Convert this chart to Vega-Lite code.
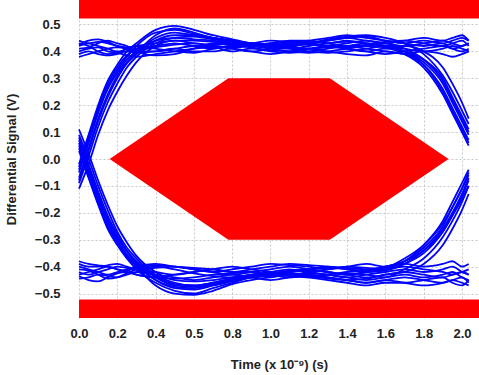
{
"$schema":"https://vega.github.io/schema/vega-lite/v6.json",
"width":400,"height":318,"autosize":"none",
"padding":{"left":79,"top":0,"right":0,"bottom":57},
"config":{"view":{"stroke":null},"font":"Liberation Sans",
"axis":{"grid":true,"gridColor":"#c8c8c8","gridDash":[2,2],"gridWidth":1,"ticks":false,"domain":false,"labelFont":"Liberation Sans","labelFontSize":13,"labelFontWeight":"bold","labelColor":"#222222","titleFont":"Liberation Sans","titleFontSize":13,"titleFontWeight":"bold","titleColor":"#222222"}},
"datasets":{
"bars":[{"t":0,"t2":2.089,"v":0.522,"v2":0.591},{"t":0,"t2":2.089,"v":-0.591,"v2":-0.522}],
"mask":[{"t":0.16,"v":0,"v2":0},{"t":0.78,"v":0.3,"v2":-0.3},{"t":1.31,"v":0.3,"v2":-0.3},{"t":1.93,"v":0,"v2":0}],
"traces":[
{"s":1,"t":0,"v":0.42},{"s":1,"t":0.05,"v":0.43},{"s":1,"t":0.1,"v":0.42},{"s":1,"t":0.15,"v":0.41},{"s":1,"t":0.2,"v":0.40},{"s":1,"t":0.25,"v":0.40},{"s":1,"t":0.3,"v":0.41},{"s":1,"t":0.4,"v":0.42},{"s":1,"t":0.5,"v":0.43},{"s":1,"t":0.6,"v":0.42},{"s":1,"t":0.7,"v":0.41},{"s":1,"t":0.8,"v":0.42},{"s":1,"t":0.9,"v":0.42},{"s":1,"t":1,"v":0.43},{"s":1,"t":1.1,"v":0.42},{"s":1,"t":1.2,"v":0.41},{"s":1,"t":1.3,"v":0.42},{"s":1,"t":1.4,"v":0.43},{"s":1,"t":1.5,"v":0.44},{"s":1,"t":1.6,"v":0.43},{"s":1,"t":1.7,"v":0.42},{"s":1,"t":1.8,"v":0.43},{"s":1,"t":1.9,"v":0.44},{"s":1,"t":1.95,"v":0.43},{"s":1,"t":2,"v":0.42},{"s":1,"t":2.035,"v":0.43},
{"s":2,"t":0,"v":0.39},{"s":2,"t":0.05,"v":0.40},{"s":2,"t":0.1,"v":0.39},{"s":2,"t":0.15,"v":0.385},{"s":2,"t":0.2,"v":0.39},{"s":2,"t":0.25,"v":0.40},{"s":2,"t":0.3,"v":0.395},{"s":2,"t":0.4,"v":0.40},{"s":2,"t":0.5,"v":0.41},{"s":2,"t":0.6,"v":0.40},{"s":2,"t":0.7,"v":0.40},{"s":2,"t":0.8,"v":0.41},{"s":2,"t":0.9,"v":0.40},{"s":2,"t":1,"v":0.39},{"s":2,"t":1.1,"v":0.40},{"s":2,"t":1.2,"v":0.41},{"s":2,"t":1.3,"v":0.40},{"s":2,"t":1.4,"v":0.39},{"s":2,"t":1.5,"v":0.385},{"s":2,"t":1.6,"v":0.40},{"s":2,"t":1.7,"v":0.39},{"s":2,"t":1.8,"v":0.40},{"s":2,"t":1.9,"v":0.39},{"s":2,"t":1.95,"v":0.38},{"s":2,"t":2,"v":0.39},{"s":2,"t":2.035,"v":0.40},
{"s":3,"t":0,"v":0.44},{"s":3,"t":0.05,"v":0.43},{"s":3,"t":0.1,"v":0.435},{"s":3,"t":0.15,"v":0.43},{"s":3,"t":0.2,"v":0.42},{"s":3,"t":0.25,"v":0.415},{"s":3,"t":0.3,"v":0.42},{"s":3,"t":0.4,"v":0.43},{"s":3,"t":0.5,"v":0.44},{"s":3,"t":0.6,"v":0.43},{"s":3,"t":0.7,"v":0.425},{"s":3,"t":0.8,"v":0.43},{"s":3,"t":0.9,"v":0.43},{"s":3,"t":1,"v":0.44},{"s":3,"t":1.1,"v":0.435},{"s":3,"t":1.2,"v":0.43},{"s":3,"t":1.3,"v":0.44},{"s":3,"t":1.4,"v":0.45},{"s":3,"t":1.5,"v":0.44},{"s":3,"t":1.6,"v":0.43},{"s":3,"t":1.7,"v":0.44},{"s":3,"t":1.8,"v":0.45},{"s":3,"t":1.9,"v":0.44},{"s":3,"t":1.95,"v":0.45},{"s":3,"t":2,"v":0.46},{"s":3,"t":2.035,"v":0.44},
{"s":4,"t":0,"v":0.40},{"s":4,"t":0.05,"v":0.41},{"s":4,"t":0.1,"v":0.415},{"s":4,"t":0.15,"v":0.40},{"s":4,"t":0.2,"v":0.395},{"s":4,"t":0.25,"v":0.385},{"s":4,"t":0.3,"v":0.38},{"s":4,"t":0.4,"v":0.39},{"s":4,"t":0.5,"v":0.40},{"s":4,"t":0.6,"v":0.41},{"s":4,"t":0.7,"v":0.415},{"s":4,"t":0.8,"v":0.40},{"s":4,"t":0.9,"v":0.41},{"s":4,"t":1,"v":0.405},{"s":4,"t":1.1,"v":0.40},{"s":4,"t":1.2,"v":0.41},{"s":4,"t":1.3,"v":0.42},{"s":4,"t":1.4,"v":0.41},{"s":4,"t":1.5,"v":0.40},{"s":4,"t":1.6,"v":0.39},{"s":4,"t":1.7,"v":0.40},{"s":4,"t":1.8,"v":0.41},{"s":4,"t":1.9,"v":0.42},{"s":4,"t":1.95,"v":0.41},{"s":4,"t":2,"v":0.40},{"s":4,"t":2.035,"v":0.41},
{"s":5,"t":0,"v":0.43},{"s":5,"t":0.05,"v":0.42},{"s":5,"t":0.1,"v":0.40},{"s":5,"t":0.15,"v":0.39},{"s":5,"t":0.2,"v":0.395},{"s":5,"t":0.25,"v":0.41},{"s":5,"t":0.3,"v":0.42},{"s":5,"t":0.4,"v":0.41},{"s":5,"t":0.5,"v":0.40},{"s":5,"t":0.6,"v":0.395},{"s":5,"t":0.7,"v":0.41},{"s":5,"t":0.8,"v":0.42},{"s":5,"t":0.9,"v":0.415},{"s":5,"t":1,"v":0.40},{"s":5,"t":1.1,"v":0.395},{"s":5,"t":1.2,"v":0.40},{"s":5,"t":1.3,"v":0.41},{"s":5,"t":1.4,"v":0.42},{"s":5,"t":1.5,"v":0.43},{"s":5,"t":1.6,"v":0.42},{"s":5,"t":1.7,"v":0.40},{"s":5,"t":1.8,"v":0.35},{"s":5,"t":1.9,"v":0.25},{"s":5,"t":1.95,"v":0.18},{"s":5,"t":2,"v":0.11},{"s":5,"t":2.035,"v":0.06},
{"s":6,"t":0,"v":0.41},{"s":6,"t":0.05,"v":0.415},{"s":6,"t":0.1,"v":0.43},{"s":6,"t":0.15,"v":0.44},{"s":6,"t":0.2,"v":0.43},{"s":6,"t":0.25,"v":0.42},{"s":6,"t":0.3,"v":0.40},{"s":6,"t":0.4,"v":0.385},{"s":6,"t":0.5,"v":0.39},{"s":6,"t":0.6,"v":0.41},{"s":6,"t":0.7,"v":0.43},{"s":6,"t":0.8,"v":0.425},{"s":6,"t":0.9,"v":0.43},{"s":6,"t":1,"v":0.425},{"s":6,"t":1.1,"v":0.42},{"s":6,"t":1.2,"v":0.43},{"s":6,"t":1.3,"v":0.445},{"s":6,"t":1.4,"v":0.455},{"s":6,"t":1.5,"v":0.46},{"s":6,"t":1.6,"v":0.45},{"s":6,"t":1.7,"v":0.43},{"s":6,"t":1.8,"v":0.39},{"s":6,"t":1.9,"v":0.31},{"s":6,"t":1.95,"v":0.25},{"s":6,"t":2,"v":0.18},{"s":6,"t":2.035,"v":0.13},
{"s":7,"t":0,"v":0.38},{"s":7,"t":0.05,"v":0.39},{"s":7,"t":0.1,"v":0.40},{"s":7,"t":0.15,"v":0.41},{"s":7,"t":0.2,"v":0.415},{"s":7,"t":0.25,"v":0.41},{"s":7,"t":0.3,"v":0.40},{"s":7,"t":0.4,"v":0.40},{"s":7,"t":0.5,"v":0.41},{"s":7,"t":0.6,"v":0.42},{"s":7,"t":0.7,"v":0.42},{"s":7,"t":0.8,"v":0.41},{"s":7,"t":0.9,"v":0.40},{"s":7,"t":1,"v":0.41},{"s":7,"t":1.1,"v":0.42},{"s":7,"t":1.2,"v":0.425},{"s":7,"t":1.3,"v":0.42},{"s":7,"t":1.4,"v":0.41},{"s":7,"t":1.5,"v":0.40},{"s":7,"t":1.6,"v":0.41},{"s":7,"t":1.7,"v":0.39},{"s":7,"t":1.8,"v":0.34},{"s":7,"t":1.9,"v":0.24},{"s":7,"t":1.95,"v":0.17},{"s":7,"t":2,"v":0.10},{"s":7,"t":2.035,"v":0.05},
{"s":8,"t":0,"v":0.425},{"s":8,"t":0.05,"v":0.44},{"s":8,"t":0.1,"v":0.445},{"s":8,"t":0.15,"v":0.435},{"s":8,"t":0.2,"v":0.42},{"s":8,"t":0.25,"v":0.41},{"s":8,"t":0.3,"v":0.405},{"s":8,"t":0.4,"v":0.415},{"s":8,"t":0.5,"v":0.425},{"s":8,"t":0.6,"v":0.43},{"s":8,"t":0.7,"v":0.42},{"s":8,"t":0.8,"v":0.415},{"s":8,"t":0.9,"v":0.42},{"s":8,"t":1,"v":0.43},{"s":8,"t":1.1,"v":0.44},{"s":8,"t":1.2,"v":0.44},{"s":8,"t":1.3,"v":0.43},{"s":8,"t":1.4,"v":0.42},{"s":8,"t":1.5,"v":0.42},{"s":8,"t":1.6,"v":0.43},{"s":8,"t":1.7,"v":0.41},{"s":8,"t":1.8,"v":0.37},{"s":8,"t":1.9,"v":0.29},{"s":8,"t":1.95,"v":0.22},{"s":8,"t":2,"v":0.15},{"s":8,"t":2.035,"v":0.10},
{"s":9,"t":0,"v":-0.02},{"s":9,"t":0.05,"v":0.09},{"s":9,"t":0.1,"v":0.20},{"s":9,"t":0.15,"v":0.29},{"s":9,"t":0.2,"v":0.35},{"s":9,"t":0.25,"v":0.40},{"s":9,"t":0.3,"v":0.43},{"s":9,"t":0.4,"v":0.48},{"s":9,"t":0.5,"v":0.495},{"s":9,"t":0.6,"v":0.48},{"s":9,"t":0.7,"v":0.46},{"s":9,"t":0.8,"v":0.445},{"s":9,"t":0.9,"v":0.43},{"s":9,"t":1,"v":0.425},{"s":9,"t":1.1,"v":0.42},{"s":9,"t":1.2,"v":0.43},{"s":9,"t":1.3,"v":0.44},{"s":9,"t":1.4,"v":0.45},{"s":9,"t":1.5,"v":0.455},{"s":9,"t":1.6,"v":0.44},{"s":9,"t":1.7,"v":0.43},{"s":9,"t":1.8,"v":0.44},{"s":9,"t":1.9,"v":0.43},{"s":9,"t":1.95,"v":0.44},{"s":9,"t":2,"v":0.45},{"s":9,"t":2.035,"v":0.44},
{"s":10,"t":0,"v":-0.05},{"s":10,"t":0.05,"v":0.06},{"s":10,"t":0.1,"v":0.17},{"s":10,"t":0.15,"v":0.26},{"s":10,"t":0.2,"v":0.32},{"s":10,"t":0.25,"v":0.37},{"s":10,"t":0.3,"v":0.40},{"s":10,"t":0.4,"v":0.45},{"s":10,"t":0.5,"v":0.47},{"s":10,"t":0.6,"v":0.46},{"s":10,"t":0.7,"v":0.45},{"s":10,"t":0.8,"v":0.44},{"s":10,"t":0.9,"v":0.425},{"s":10,"t":1,"v":0.42},{"s":10,"t":1.1,"v":0.415},{"s":10,"t":1.2,"v":0.41},{"s":10,"t":1.3,"v":0.415},{"s":10,"t":1.4,"v":0.42},{"s":10,"t":1.5,"v":0.41},{"s":10,"t":1.6,"v":0.40},{"s":10,"t":1.7,"v":0.39},{"s":10,"t":1.8,"v":0.35},{"s":10,"t":1.9,"v":0.26},{"s":10,"t":1.95,"v":0.19},{"s":10,"t":2,"v":0.12},{"s":10,"t":2.035,"v":0.07},
{"s":11,"t":0,"v":-0.09},{"s":11,"t":0.05,"v":0.01},{"s":11,"t":0.1,"v":0.12},{"s":11,"t":0.15,"v":0.21},{"s":11,"t":0.2,"v":0.28},{"s":11,"t":0.25,"v":0.34},{"s":11,"t":0.3,"v":0.38},{"s":11,"t":0.4,"v":0.43},{"s":11,"t":0.5,"v":0.45},{"s":11,"t":0.6,"v":0.455},{"s":11,"t":0.7,"v":0.445},{"s":11,"t":0.8,"v":0.435},{"s":11,"t":0.9,"v":0.425},{"s":11,"t":1,"v":0.415},{"s":11,"t":1.1,"v":0.41},{"s":11,"t":1.2,"v":0.42},{"s":11,"t":1.3,"v":0.43},{"s":11,"t":1.4,"v":0.435},{"s":11,"t":1.5,"v":0.43},{"s":11,"t":1.6,"v":0.42},{"s":11,"t":1.7,"v":0.41},{"s":11,"t":1.8,"v":0.40},{"s":11,"t":1.9,"v":0.41},{"s":11,"t":1.95,"v":0.42},{"s":11,"t":2,"v":0.41},{"s":11,"t":2.035,"v":0.40},
{"s":12,"t":0,"v":-0.11},{"s":12,"t":0.05,"v":-0.02},{"s":12,"t":0.1,"v":0.09},{"s":12,"t":0.15,"v":0.18},{"s":12,"t":0.2,"v":0.25},{"s":12,"t":0.25,"v":0.31},{"s":12,"t":0.3,"v":0.36},{"s":12,"t":0.4,"v":0.42},{"s":12,"t":0.5,"v":0.44},{"s":12,"t":0.6,"v":0.44},{"s":12,"t":0.7,"v":0.435},{"s":12,"t":0.8,"v":0.43},{"s":12,"t":0.9,"v":0.42},{"s":12,"t":1,"v":0.41},{"s":12,"t":1.1,"v":0.40},{"s":12,"t":1.2,"v":0.395},{"s":12,"t":1.3,"v":0.40},{"s":12,"t":1.4,"v":0.41},{"s":12,"t":1.5,"v":0.42},{"s":12,"t":1.6,"v":0.415},{"s":12,"t":1.7,"v":0.40},{"s":12,"t":1.8,"v":0.36},{"s":12,"t":1.9,"v":0.28},{"s":12,"t":1.95,"v":0.21},{"s":12,"t":2,"v":0.14},{"s":12,"t":2.035,"v":0.09},
{"s":13,"t":0,"v":-0.03},{"s":13,"t":0.05,"v":0.08},{"s":13,"t":0.1,"v":0.19},{"s":13,"t":0.15,"v":0.28},{"s":13,"t":0.2,"v":0.34},{"s":13,"t":0.25,"v":0.385},{"s":13,"t":0.3,"v":0.41},{"s":13,"t":0.4,"v":0.44},{"s":13,"t":0.5,"v":0.45},{"s":13,"t":0.6,"v":0.445},{"s":13,"t":0.7,"v":0.44},{"s":13,"t":0.8,"v":0.43},{"s":13,"t":0.9,"v":0.425},{"s":13,"t":1,"v":0.43},{"s":13,"t":1.1,"v":0.435},{"s":13,"t":1.2,"v":0.44},{"s":13,"t":1.3,"v":0.45},{"s":13,"t":1.4,"v":0.46},{"s":13,"t":1.5,"v":0.45},{"s":13,"t":1.6,"v":0.44},{"s":13,"t":1.7,"v":0.43},{"s":13,"t":1.8,"v":0.42},{"s":13,"t":1.9,"v":0.43},{"s":13,"t":1.95,"v":0.41},{"s":13,"t":2,"v":0.42},{"s":13,"t":2.035,"v":0.43},
{"s":14,"t":0,"v":-0.07},{"s":14,"t":0.05,"v":0.04},{"s":14,"t":0.1,"v":0.15},{"s":14,"t":0.15,"v":0.24},{"s":14,"t":0.2,"v":0.31},{"s":14,"t":0.25,"v":0.36},{"s":14,"t":0.3,"v":0.395},{"s":14,"t":0.4,"v":0.46},{"s":14,"t":0.5,"v":0.485},{"s":14,"t":0.6,"v":0.47},{"s":14,"t":0.7,"v":0.45},{"s":14,"t":0.8,"v":0.44},{"s":14,"t":0.9,"v":0.43},{"s":14,"t":1,"v":0.42},{"s":14,"t":1.1,"v":0.41},{"s":14,"t":1.2,"v":0.40},{"s":14,"t":1.3,"v":0.395},{"s":14,"t":1.4,"v":0.40},{"s":14,"t":1.5,"v":0.41},{"s":14,"t":1.6,"v":0.42},{"s":14,"t":1.7,"v":0.42},{"s":14,"t":1.8,"v":0.40},{"s":14,"t":1.9,"v":0.34},{"s":14,"t":1.95,"v":0.28},{"s":14,"t":2,"v":0.21},{"s":14,"t":2.035,"v":0.15},
{"s":15,"t":0,"v":-0.04},{"s":15,"t":0.05,"v":0.07},{"s":15,"t":0.1,"v":0.18},{"s":15,"t":0.15,"v":0.27},{"s":15,"t":0.2,"v":0.33},{"s":15,"t":0.25,"v":0.38},{"s":15,"t":0.3,"v":0.42},{"s":15,"t":0.4,"v":0.47},{"s":15,"t":0.5,"v":0.48},{"s":15,"t":0.6,"v":0.465},{"s":15,"t":0.7,"v":0.45},{"s":15,"t":0.8,"v":0.435},{"s":15,"t":0.9,"v":0.425},{"s":15,"t":1,"v":0.42},{"s":15,"t":1.1,"v":0.425},{"s":15,"t":1.2,"v":0.43},{"s":15,"t":1.3,"v":0.42},{"s":15,"t":1.4,"v":0.415},{"s":15,"t":1.5,"v":0.425},{"s":15,"t":1.6,"v":0.435},{"s":15,"t":1.7,"v":0.44},{"s":15,"t":1.8,"v":0.43},{"s":15,"t":1.9,"v":0.42},{"s":15,"t":1.95,"v":0.43},{"s":15,"t":2,"v":0.44},{"s":15,"t":2.035,"v":0.42},
{"s":16,"t":0,"v":-0.08},{"s":16,"t":0.05,"v":0.03},{"s":16,"t":0.1,"v":0.14},{"s":16,"t":0.15,"v":0.23},{"s":16,"t":0.2,"v":0.30},{"s":16,"t":0.25,"v":0.355},{"s":16,"t":0.3,"v":0.39},{"s":16,"t":0.4,"v":0.44},{"s":16,"t":0.5,"v":0.46},{"s":16,"t":0.6,"v":0.46},{"s":16,"t":0.7,"v":0.45},{"s":16,"t":0.8,"v":0.44},{"s":16,"t":0.9,"v":0.43},{"s":16,"t":1,"v":0.425},{"s":16,"t":1.1,"v":0.43},{"s":16,"t":1.2,"v":0.435},{"s":16,"t":1.3,"v":0.43},{"s":16,"t":1.4,"v":0.44},{"s":16,"t":1.5,"v":0.43},{"s":16,"t":1.6,"v":0.42},{"s":16,"t":1.7,"v":0.40},{"s":16,"t":1.8,"v":0.37},{"s":16,"t":1.9,"v":0.30},{"s":16,"t":1.95,"v":0.23},{"s":16,"t":2,"v":0.16},{"s":16,"t":2.035,"v":0.11},
{"s":17,"t":0,"v":-0.42},{"s":17,"t":0.05,"v":-0.43},{"s":17,"t":0.1,"v":-0.42},{"s":17,"t":0.15,"v":-0.41},{"s":17,"t":0.2,"v":-0.40},{"s":17,"t":0.25,"v":-0.405},{"s":17,"t":0.3,"v":-0.41},{"s":17,"t":0.4,"v":-0.42},{"s":17,"t":0.5,"v":-0.43},{"s":17,"t":0.6,"v":-0.42},{"s":17,"t":0.7,"v":-0.41},{"s":17,"t":0.8,"v":-0.42},{"s":17,"t":0.9,"v":-0.42},{"s":17,"t":1,"v":-0.43},{"s":17,"t":1.1,"v":-0.42},{"s":17,"t":1.2,"v":-0.41},{"s":17,"t":1.3,"v":-0.42},{"s":17,"t":1.4,"v":-0.43},{"s":17,"t":1.5,"v":-0.44},{"s":17,"t":1.6,"v":-0.43},{"s":17,"t":1.7,"v":-0.42},{"s":17,"t":1.8,"v":-0.43},{"s":17,"t":1.9,"v":-0.44},{"s":17,"t":1.95,"v":-0.43},{"s":17,"t":2,"v":-0.42},{"s":17,"t":2.035,"v":-0.43},
{"s":18,"t":0,"v":-0.39},{"s":18,"t":0.05,"v":-0.40},{"s":18,"t":0.1,"v":-0.40},{"s":18,"t":0.15,"v":-0.395},{"s":18,"t":0.2,"v":-0.39},{"s":18,"t":0.25,"v":-0.40},{"s":18,"t":0.3,"v":-0.41},{"s":18,"t":0.4,"v":-0.405},{"s":18,"t":0.5,"v":-0.40},{"s":18,"t":0.6,"v":-0.41},{"s":18,"t":0.7,"v":-0.42},{"s":18,"t":0.8,"v":-0.41},{"s":18,"t":0.9,"v":-0.40},{"s":18,"t":1,"v":-0.39},{"s":18,"t":1.1,"v":-0.395},{"s":18,"t":1.2,"v":-0.40},{"s":18,"t":1.3,"v":-0.41},{"s":18,"t":1.4,"v":-0.40},{"s":18,"t":1.5,"v":-0.39},{"s":18,"t":1.6,"v":-0.40},{"s":18,"t":1.7,"v":-0.39},{"s":18,"t":1.8,"v":-0.40},{"s":18,"t":1.9,"v":-0.39},{"s":18,"t":1.95,"v":-0.38},{"s":18,"t":2,"v":-0.40},{"s":18,"t":2.035,"v":-0.39},
{"s":19,"t":0,"v":-0.445},{"s":19,"t":0.05,"v":-0.44},{"s":19,"t":0.1,"v":-0.43},{"s":19,"t":0.15,"v":-0.435},{"s":19,"t":0.2,"v":-0.44},{"s":19,"t":0.25,"v":-0.43},{"s":19,"t":0.3,"v":-0.42},{"s":19,"t":0.4,"v":-0.43},{"s":19,"t":0.5,"v":-0.44},{"s":19,"t":0.6,"v":-0.45},{"s":19,"t":0.7,"v":-0.44},{"s":19,"t":0.8,"v":-0.43},{"s":19,"t":0.9,"v":-0.44},{"s":19,"t":1,"v":-0.45},{"s":19,"t":1.1,"v":-0.44},{"s":19,"t":1.2,"v":-0.43},{"s":19,"t":1.3,"v":-0.44},{"s":19,"t":1.4,"v":-0.45},{"s":19,"t":1.5,"v":-0.46},{"s":19,"t":1.6,"v":-0.45},{"s":19,"t":1.7,"v":-0.46},{"s":19,"t":1.8,"v":-0.47},{"s":19,"t":1.9,"v":-0.46},{"s":19,"t":1.95,"v":-0.45},{"s":19,"t":2,"v":-0.46},{"s":19,"t":2.035,"v":-0.47},
{"s":20,"t":0,"v":-0.40},{"s":20,"t":0.05,"v":-0.41},{"s":20,"t":0.1,"v":-0.42},{"s":20,"t":0.15,"v":-0.43},{"s":20,"t":0.2,"v":-0.42},{"s":20,"t":0.25,"v":-0.41},{"s":20,"t":0.3,"v":-0.40},{"s":20,"t":0.4,"v":-0.39},{"s":20,"t":0.5,"v":-0.40},{"s":20,"t":0.6,"v":-0.41},{"s":20,"t":0.7,"v":-0.42},{"s":20,"t":0.8,"v":-0.43},{"s":20,"t":0.9,"v":-0.42},{"s":20,"t":1,"v":-0.41},{"s":20,"t":1.1,"v":-0.40},{"s":20,"t":1.2,"v":-0.41},{"s":20,"t":1.3,"v":-0.42},{"s":20,"t":1.4,"v":-0.43},{"s":20,"t":1.5,"v":-0.42},{"s":20,"t":1.6,"v":-0.41},{"s":20,"t":1.7,"v":-0.40},{"s":20,"t":1.8,"v":-0.41},{"s":20,"t":1.9,"v":-0.42},{"s":20,"t":1.95,"v":-0.43},{"s":20,"t":2,"v":-0.42},{"s":20,"t":2.035,"v":-0.41},
{"s":21,"t":0,"v":-0.43},{"s":21,"t":0.05,"v":-0.42},{"s":21,"t":0.1,"v":-0.41},{"s":21,"t":0.15,"v":-0.40},{"s":21,"t":0.2,"v":-0.41},{"s":21,"t":0.25,"v":-0.42},{"s":21,"t":0.3,"v":-0.43},{"s":21,"t":0.4,"v":-0.44},{"s":21,"t":0.5,"v":-0.43},{"s":21,"t":0.6,"v":-0.42},{"s":21,"t":0.7,"v":-0.41},{"s":21,"t":0.8,"v":-0.40},{"s":21,"t":0.9,"v":-0.41},{"s":21,"t":1,"v":-0.42},{"s":21,"t":1.1,"v":-0.43},{"s":21,"t":1.2,"v":-0.42},{"s":21,"t":1.3,"v":-0.41},{"s":21,"t":1.4,"v":-0.40},{"s":21,"t":1.5,"v":-0.405},{"s":21,"t":1.6,"v":-0.41},{"s":21,"t":1.7,"v":-0.39},{"s":21,"t":1.8,"v":-0.34},{"s":21,"t":1.9,"v":-0.26},{"s":21,"t":1.95,"v":-0.20},{"s":21,"t":2,"v":-0.13},{"s":21,"t":2.035,"v":-0.07},
{"s":22,"t":0,"v":-0.41},{"s":22,"t":0.05,"v":-0.415},{"s":22,"t":0.1,"v":-0.43},{"s":22,"t":0.15,"v":-0.445},{"s":22,"t":0.2,"v":-0.44},{"s":22,"t":0.25,"v":-0.425},{"s":22,"t":0.3,"v":-0.41},{"s":22,"t":0.4,"v":-0.40},{"s":22,"t":0.5,"v":-0.41},{"s":22,"t":0.6,"v":-0.425},{"s":22,"t":0.7,"v":-0.435},{"s":22,"t":0.8,"v":-0.44},{"s":22,"t":0.9,"v":-0.44},{"s":22,"t":1,"v":-0.43},{"s":22,"t":1.1,"v":-0.425},{"s":22,"t":1.2,"v":-0.435},{"s":22,"t":1.3,"v":-0.445},{"s":22,"t":1.4,"v":-0.45},{"s":22,"t":1.5,"v":-0.445},{"s":22,"t":1.6,"v":-0.43},{"s":22,"t":1.7,"v":-0.42},{"s":22,"t":1.8,"v":-0.39},{"s":22,"t":1.9,"v":-0.32},{"s":22,"t":1.95,"v":-0.26},{"s":22,"t":2,"v":-0.19},{"s":22,"t":2.035,"v":-0.13},
{"s":23,"t":0,"v":-0.38},{"s":23,"t":0.05,"v":-0.39},{"s":23,"t":0.1,"v":-0.395},{"s":23,"t":0.15,"v":-0.40},{"s":23,"t":0.2,"v":-0.41},{"s":23,"t":0.25,"v":-0.415},{"s":23,"t":0.3,"v":-0.40},{"s":23,"t":0.4,"v":-0.395},{"s":23,"t":0.5,"v":-0.40},{"s":23,"t":0.6,"v":-0.405},{"s":23,"t":0.7,"v":-0.41},{"s":23,"t":0.8,"v":-0.42},{"s":23,"t":0.9,"v":-0.41},{"s":23,"t":1,"v":-0.40},{"s":23,"t":1.1,"v":-0.39},{"s":23,"t":1.2,"v":-0.395},{"s":23,"t":1.3,"v":-0.40},{"s":23,"t":1.4,"v":-0.41},{"s":23,"t":1.5,"v":-0.415},{"s":23,"t":1.6,"v":-0.40},{"s":23,"t":1.7,"v":-0.38},{"s":23,"t":1.8,"v":-0.32},{"s":23,"t":1.9,"v":-0.23},{"s":23,"t":1.95,"v":-0.16},{"s":23,"t":2,"v":-0.09},{"s":23,"t":2.035,"v":-0.04},
{"s":24,"t":0,"v":-0.435},{"s":24,"t":0.05,"v":-0.45},{"s":24,"t":0.1,"v":-0.455},{"s":24,"t":0.15,"v":-0.44},{"s":24,"t":0.2,"v":-0.425},{"s":24,"t":0.25,"v":-0.42},{"s":24,"t":0.3,"v":-0.43},{"s":24,"t":0.4,"v":-0.44},{"s":24,"t":0.5,"v":-0.445},{"s":24,"t":0.6,"v":-0.44},{"s":24,"t":0.7,"v":-0.43},{"s":24,"t":0.8,"v":-0.425},{"s":24,"t":0.9,"v":-0.42},{"s":24,"t":1,"v":-0.43},{"s":24,"t":1.1,"v":-0.44},{"s":24,"t":1.2,"v":-0.435},{"s":24,"t":1.3,"v":-0.43},{"s":24,"t":1.4,"v":-0.425},{"s":24,"t":1.5,"v":-0.43},{"s":24,"t":1.6,"v":-0.44},{"s":24,"t":1.7,"v":-0.41},{"s":24,"t":1.8,"v":-0.37},{"s":24,"t":1.9,"v":-0.29},{"s":24,"t":1.95,"v":-0.23},{"s":24,"t":2,"v":-0.16},{"s":24,"t":2.035,"v":-0.10},
{"s":25,"t":0,"v":0.03},{"s":25,"t":0.05,"v":-0.07},{"s":25,"t":0.1,"v":-0.17},{"s":25,"t":0.15,"v":-0.26},{"s":25,"t":0.2,"v":-0.32},{"s":25,"t":0.25,"v":-0.37},{"s":25,"t":0.3,"v":-0.41},{"s":25,"t":0.4,"v":-0.46},{"s":25,"t":0.5,"v":-0.49},{"s":25,"t":0.6,"v":-0.50},{"s":25,"t":0.7,"v":-0.48},{"s":25,"t":0.8,"v":-0.46},{"s":25,"t":0.9,"v":-0.44},{"s":25,"t":1,"v":-0.43},{"s":25,"t":1.1,"v":-0.425},{"s":25,"t":1.2,"v":-0.43},{"s":25,"t":1.3,"v":-0.44},{"s":25,"t":1.4,"v":-0.45},{"s":25,"t":1.5,"v":-0.46},{"s":25,"t":1.6,"v":-0.45},{"s":25,"t":1.7,"v":-0.44},{"s":25,"t":1.8,"v":-0.45},{"s":25,"t":1.9,"v":-0.46},{"s":25,"t":1.95,"v":-0.45},{"s":25,"t":2,"v":-0.44},{"s":25,"t":2.035,"v":-0.46},
{"s":26,"t":0,"v":0.06},{"s":26,"t":0.05,"v":-0.04},{"s":26,"t":0.1,"v":-0.14},{"s":26,"t":0.15,"v":-0.23},{"s":26,"t":0.2,"v":-0.30},{"s":26,"t":0.25,"v":-0.355},{"s":26,"t":0.3,"v":-0.39},{"s":26,"t":0.4,"v":-0.45},{"s":26,"t":0.5,"v":-0.48},{"s":26,"t":0.6,"v":-0.485},{"s":26,"t":0.7,"v":-0.47},{"s":26,"t":0.8,"v":-0.45},{"s":26,"t":0.9,"v":-0.435},{"s":26,"t":1,"v":-0.425},{"s":26,"t":1.1,"v":-0.42},{"s":26,"t":1.2,"v":-0.415},{"s":26,"t":1.3,"v":-0.42},{"s":26,"t":1.4,"v":-0.43},{"s":26,"t":1.5,"v":-0.42},{"s":26,"t":1.6,"v":-0.41},{"s":26,"t":1.7,"v":-0.38},{"s":26,"t":1.8,"v":-0.33},{"s":26,"t":1.9,"v":-0.25},{"s":26,"t":1.95,"v":-0.18},{"s":26,"t":2,"v":-0.11},{"s":26,"t":2.035,"v":-0.06},
{"s":27,"t":0,"v":0.09},{"s":27,"t":0.05,"v":0.0},{"s":27,"t":0.1,"v":-0.10},{"s":27,"t":0.15,"v":-0.19},{"s":27,"t":0.2,"v":-0.27},{"s":27,"t":0.25,"v":-0.33},{"s":27,"t":0.3,"v":-0.37},{"s":27,"t":0.4,"v":-0.43},{"s":27,"t":0.5,"v":-0.46},{"s":27,"t":0.6,"v":-0.47},{"s":27,"t":0.7,"v":-0.46},{"s":27,"t":0.8,"v":-0.445},{"s":27,"t":0.9,"v":-0.43},{"s":27,"t":1,"v":-0.42},{"s":27,"t":1.1,"v":-0.41},{"s":27,"t":1.2,"v":-0.42},{"s":27,"t":1.3,"v":-0.43},{"s":27,"t":1.4,"v":-0.44},{"s":27,"t":1.5,"v":-0.43},{"s":27,"t":1.6,"v":-0.42},{"s":27,"t":1.7,"v":-0.41},{"s":27,"t":1.8,"v":-0.42},{"s":27,"t":1.9,"v":-0.41},{"s":27,"t":1.95,"v":-0.40},{"s":27,"t":2,"v":-0.42},{"s":27,"t":2.035,"v":-0.43},
{"s":28,"t":0,"v":0.11},{"s":28,"t":0.05,"v":0.02},{"s":28,"t":0.1,"v":-0.08},{"s":28,"t":0.15,"v":-0.17},{"s":28,"t":0.2,"v":-0.25},{"s":28,"t":0.25,"v":-0.31},{"s":28,"t":0.3,"v":-0.36},{"s":28,"t":0.4,"v":-0.42},{"s":28,"t":0.5,"v":-0.45},{"s":28,"t":0.6,"v":-0.455},{"s":28,"t":0.7,"v":-0.45},{"s":28,"t":0.8,"v":-0.44},{"s":28,"t":0.9,"v":-0.43},{"s":28,"t":1,"v":-0.425},{"s":28,"t":1.1,"v":-0.415},{"s":28,"t":1.2,"v":-0.41},{"s":28,"t":1.3,"v":-0.405},{"s":28,"t":1.4,"v":-0.41},{"s":28,"t":1.5,"v":-0.42},{"s":28,"t":1.6,"v":-0.415},{"s":28,"t":1.7,"v":-0.39},{"s":28,"t":1.8,"v":-0.35},{"s":28,"t":1.9,"v":-0.27},{"s":28,"t":1.95,"v":-0.21},{"s":28,"t":2,"v":-0.14},{"s":28,"t":2.035,"v":-0.08},
{"s":29,"t":0,"v":0.04},{"s":29,"t":0.05,"v":-0.06},{"s":29,"t":0.1,"v":-0.16},{"s":29,"t":0.15,"v":-0.25},{"s":29,"t":0.2,"v":-0.31},{"s":29,"t":0.25,"v":-0.365},{"s":29,"t":0.3,"v":-0.40},{"s":29,"t":0.4,"v":-0.47},{"s":29,"t":0.5,"v":-0.50},{"s":29,"t":0.6,"v":-0.505},{"s":29,"t":0.7,"v":-0.49},{"s":29,"t":0.8,"v":-0.465},{"s":29,"t":0.9,"v":-0.45},{"s":29,"t":1,"v":-0.44},{"s":29,"t":1.1,"v":-0.43},{"s":29,"t":1.2,"v":-0.44},{"s":29,"t":1.3,"v":-0.45},{"s":29,"t":1.4,"v":-0.46},{"s":29,"t":1.5,"v":-0.47},{"s":29,"t":1.6,"v":-0.46},{"s":29,"t":1.7,"v":-0.46},{"s":29,"t":1.8,"v":-0.45},{"s":29,"t":1.9,"v":-0.44},{"s":29,"t":1.95,"v":-0.46},{"s":29,"t":2,"v":-0.47},{"s":29,"t":2.035,"v":-0.45},
{"s":30,"t":0,"v":0.07},{"s":30,"t":0.05,"v":-0.03},{"s":30,"t":0.1,"v":-0.13},{"s":30,"t":0.15,"v":-0.22},{"s":30,"t":0.2,"v":-0.29},{"s":30,"t":0.25,"v":-0.345},{"s":30,"t":0.3,"v":-0.385},{"s":30,"t":0.4,"v":-0.44},{"s":30,"t":0.5,"v":-0.47},{"s":30,"t":0.6,"v":-0.475},{"s":30,"t":0.7,"v":-0.465},{"s":30,"t":0.8,"v":-0.45},{"s":30,"t":0.9,"v":-0.44},{"s":30,"t":1,"v":-0.43},{"s":30,"t":1.1,"v":-0.42},{"s":30,"t":1.2,"v":-0.41},{"s":30,"t":1.3,"v":-0.40},{"s":30,"t":1.4,"v":-0.405},{"s":30,"t":1.5,"v":-0.41},{"s":30,"t":1.6,"v":-0.40},{"s":30,"t":1.7,"v":-0.38},{"s":30,"t":1.8,"v":-0.34},{"s":30,"t":1.9,"v":-0.27},{"s":30,"t":1.95,"v":-0.21},{"s":30,"t":2,"v":-0.15},{"s":30,"t":2.035,"v":-0.10},
{"s":31,"t":0,"v":0.05},{"s":31,"t":0.05,"v":-0.05},{"s":31,"t":0.1,"v":-0.15},{"s":31,"t":0.15,"v":-0.24},{"s":31,"t":0.2,"v":-0.305},{"s":31,"t":0.25,"v":-0.36},{"s":31,"t":0.3,"v":-0.395},{"s":31,"t":0.4,"v":-0.45},{"s":31,"t":0.5,"v":-0.475},{"s":31,"t":0.6,"v":-0.48},{"s":31,"t":0.7,"v":-0.47},{"s":31,"t":0.8,"v":-0.455},{"s":31,"t":0.9,"v":-0.44},{"s":31,"t":1,"v":-0.435},{"s":31,"t":1.1,"v":-0.43},{"s":31,"t":1.2,"v":-0.425},{"s":31,"t":1.3,"v":-0.43},{"s":31,"t":1.4,"v":-0.44},{"s":31,"t":1.5,"v":-0.45},{"s":31,"t":1.6,"v":-0.44},{"s":31,"t":1.7,"v":-0.43},{"s":31,"t":1.8,"v":-0.44},{"s":31,"t":1.9,"v":-0.43},{"s":31,"t":1.95,"v":-0.42},{"s":31,"t":2,"v":-0.44},{"s":31,"t":2.035,"v":-0.45},
{"s":32,"t":0,"v":0.08},{"s":32,"t":0.05,"v":-0.02},{"s":32,"t":0.1,"v":-0.12},{"s":32,"t":0.15,"v":-0.21},{"s":32,"t":0.2,"v":-0.28},{"s":32,"t":0.25,"v":-0.34},{"s":32,"t":0.3,"v":-0.38},{"s":32,"t":0.4,"v":-0.435},{"s":32,"t":0.5,"v":-0.465},{"s":32,"t":0.6,"v":-0.47},{"s":32,"t":0.7,"v":-0.46},{"s":32,"t":0.8,"v":-0.445},{"s":32,"t":0.9,"v":-0.435},{"s":32,"t":1,"v":-0.43},{"s":32,"t":1.1,"v":-0.435},{"s":32,"t":1.2,"v":-0.44},{"s":32,"t":1.3,"v":-0.43},{"s":32,"t":1.4,"v":-0.42},{"s":32,"t":1.5,"v":-0.415},{"s":32,"t":1.6,"v":-0.405},{"s":32,"t":1.7,"v":-0.37},{"s":32,"t":1.8,"v":-0.32},{"s":32,"t":1.9,"v":-0.24},{"s":32,"t":1.95,"v":-0.18},{"s":32,"t":2,"v":-0.11},{"s":32,"t":2.035,"v":-0.05}
]},
"encoding":{
"x":{"field":"t","type":"quantitative","title":"Time (x 10⁻⁹) (s)","scale":{"domain":[0,2.089],"nice":false,"zero":false},
 "axis":{"values":[0,0.2,0.4,0.6,0.8,1,1.2,1.4,1.6,1.8,2],"labelExpr":"datum.value == 0.6 ? '0.5' : format(datum.value, '.1f')","labelPadding":9,"titlePadding":18,"labelFlush":false}},
"y":{"field":"v","type":"quantitative","title":"Differential Signal (V)","scale":{"domain":[-0.591,0.591],"nice":false,"zero":false},
 "axis":{"values":[-0.5,-0.4,-0.3,-0.2,-0.1,0,0.1,0.2,0.3,0.4,0.5],"format":".1f","labelPadding":19,"titlePadding":16,"labelFlush":false}}
},
"layer":[
{"data":{"name":"bars"},"mark":{"type":"rect","color":"#ff0000","clip":true},"encoding":{"x2":{"field":"t2"},"y2":{"field":"v2"}}},
{"data":{"name":"mask"},"mark":{"type":"area","color":"#ff0000","interpolate":"linear","opacity":1},"encoding":{"y2":{"field":"v2"}}},
{"data":{"name":"traces"},"mark":{"type":"line","color":"#0000ff","strokeWidth":1.8,"interpolate":"monotone"},"encoding":{"detail":{"field":"s","type":"nominal"}}}
]
}
